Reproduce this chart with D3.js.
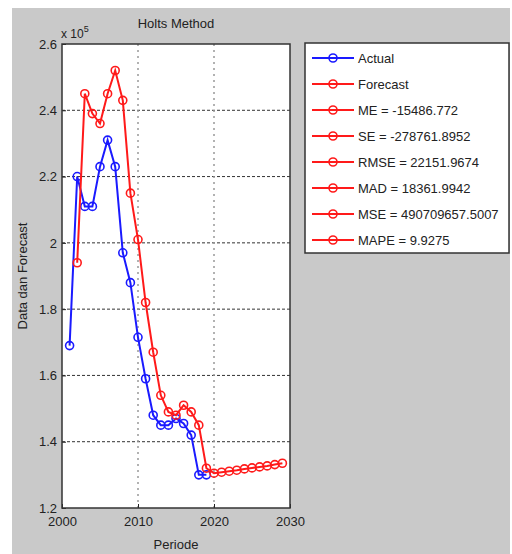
<!DOCTYPE html>
<html>
<head>
<meta charset="utf-8">
<script src="https://cdn.jsdelivr.net/npm/d3@7"></script>
<style>
body { margin: 0; background: #fff; }
svg text { font-family: "Liberation Sans Narrow", "Arial Narrow", "Liberation Sans", sans-serif; fill: #222; }
</style>
</head>
<body>
<svg width="512" height="554"></svg>
<script>
// values are in units of 10^5
var actualYears = d3.range(2001, 2020);
var actualValues = [1.69, 2.20, 2.11, 2.11, 2.23, 2.31, 2.23, 1.97, 1.88, 1.715,
    1.59, 1.48, 1.45, 1.45, 1.47, 1.455, 1.42, 1.30, 1.30];

var forecastYears = d3.range(2002, 2030);
var forecastValues = [1.94, 2.45, 2.39, 2.36, 2.45, 2.52, 2.43, 2.15, 2.01, 1.82,
    1.67, 1.54, 1.49, 1.48, 1.51, 1.49, 1.45, 1.32, 1.305, 1.308,
    1.311, 1.314, 1.318, 1.321, 1.324, 1.327, 1.331, 1.335];

var xTicks = [2000, 2010, 2020, 2030];
var yTicks = [1.2, 1.4, 1.6, 1.8, 2, 2.2, 2.4, 2.6];

var legendLabels = ["Actual", "Forecast", "ME = -15486.772", "SE = -278761.8952",
    "RMSE = 22151.9674", "MAD = 18361.9942", "MSE = 490709657.5007", "MAPE = 9.9275"];
var legendColors = ["#1a1aff", "#ff1a1a", "#ff1a1a", "#ff1a1a", "#ff1a1a", "#ff1a1a", "#ff1a1a", "#ff1a1a"];

var svg = d3.select("svg");
var plot = { left: 62, top: 44, right: 290, bottom: 508 };

svg.append("rect")
    .attr("x", 12).attr("y", 8)
    .attr("width", 498).attr("height", 546)
    .attr("fill", "#c9c9c9");

var x = d3.scaleLinear().domain([2000, 2030]).range([plot.left, plot.right]);
var y = d3.scaleLinear().domain([1.2, 2.6]).range([plot.bottom, plot.top]);

svg.append("rect")
    .attr("x", plot.left).attr("y", plot.top)
    .attr("width", plot.right - plot.left).attr("height", plot.bottom - plot.top)
    .attr("fill", "#fff");

// grid
svg.append("g")
    .selectAll("line")
    .data(yTicks.slice(1, -1))
    .enter().append("line")
    .attr("x1", plot.left).attr("x2", plot.right)
    .attr("y1", function (d) { return y(d); })
    .attr("y2", function (d) { return y(d); })
    .attr("stroke", "#333")
    .attr("stroke-dasharray", "3,2");

svg.append("g")
    .selectAll("line")
    .data(xTicks.slice(1, -1))
    .enter().append("line")
    .attr("y1", plot.top).attr("y2", plot.bottom)
    .attr("x1", function (d) { return x(d); })
    .attr("x2", function (d) { return x(d); })
    .attr("stroke", "#999")
    .attr("stroke-width", 1.5)
    .attr("stroke-dasharray", "2,4");

// axes
var yAxis = d3.axisLeft(y).tickValues(yTicks).tickSize(-4).tickPadding(5)
    .tickFormat(function (d) { return d3.format("")(+d.toFixed(1)); });
var xAxis = d3.axisBottom(x).tickValues(xTicks).tickSize(-4).tickPadding(9)
    .tickFormat(d3.format("d"));

var gy = svg.append("g").attr("transform", "translate(" + plot.left + ",0)").call(yAxis);
var gx = svg.append("g").attr("transform", "translate(0," + plot.bottom + ")").call(xAxis);
[gx, gy].forEach(function (g) {
    g.select(".domain").remove();
    g.selectAll("line").attr("stroke", "#222");
    g.selectAll("text").attr("font-size", 13).style("fill", "#222");
});

// box
svg.append("rect")
    .attr("x", plot.left).attr("y", plot.top)
    .attr("width", plot.right - plot.left).attr("height", plot.bottom - plot.top)
    .attr("fill", "none")
    .attr("stroke", "#333")
    .attr("stroke-width", 1.5);

// series
var line = d3.line()
    .x(function (d) { return x(d[0]); })
    .y(function (d) { return y(d[1]); });

function drawSeries(years, values, color) {
    var pts = d3.zip(years, values);
    svg.append("path")
        .datum(pts)
        .attr("d", line)
        .attr("fill", "none")
        .attr("stroke", color)
        .attr("stroke-width", 2);
    svg.append("g")
        .selectAll("circle")
        .data(pts)
        .enter().append("circle")
        .attr("cx", function (d) { return x(d[0]); })
        .attr("cy", function (d) { return y(d[1]); })
        .attr("r", 4)
        .attr("fill", "none")
        .attr("stroke", color)
        .attr("stroke-width", 1.6);
}
drawSeries(actualYears, actualValues, "#1a1aff");
drawSeries(forecastYears, forecastValues, "#ff1a1a");

// titles
svg.append("text")
    .attr("x", 176).attr("y", 28)
    .attr("text-anchor", "middle")
    .attr("font-size", 13)
    .text("Holts Method");

var expo = svg.append("text")
    .attr("x", 61).attr("y", 38)
    .attr("font-size", 12);
expo.append("tspan").text("x 10");
expo.append("tspan").attr("dy", -6).attr("font-size", 9).text("5");

svg.append("text")
    .attr("x", 176).attr("y", 549)
    .attr("text-anchor", "middle")
    .attr("font-size", 13)
    .text("Periode");

svg.append("text")
    .attr("transform", "translate(27," + ((plot.top + plot.bottom) / 2) + ") rotate(-90)")
    .attr("text-anchor", "middle")
    .attr("font-size", 13)
    .text("Data dan Forecast");

// legend
var legend = svg.append("g");
legend.append("rect")
    .attr("x", 305).attr("y", 43)
    .attr("width", 204).attr("height", 210)
    .attr("fill", "#fff")
    .attr("stroke", "#333")
    .attr("stroke-width", 1.5);

var rows = legend.selectAll("g.row")
    .data(legendLabels)
    .enter().append("g")
    .attr("class", "row")
    .attr("transform", function (d, i) { return "translate(0," + (58 + i * 26) + ")"; });

rows.append("line")
    .attr("x1", 312).attr("x2", 354)
    .attr("stroke", function (d, i) { return legendColors[i]; })
    .attr("stroke-width", 2);
rows.append("circle")
    .attr("cx", 333).attr("r", 4)
    .attr("fill", "none")
    .attr("stroke", function (d, i) { return legendColors[i]; })
    .attr("stroke-width", 1.6);
rows.append("text")
    .attr("x", 358).attr("y", 4.5)
    .attr("font-size", 13)
    .text(function (d) { return d; });
</script>
</body>
</html>
